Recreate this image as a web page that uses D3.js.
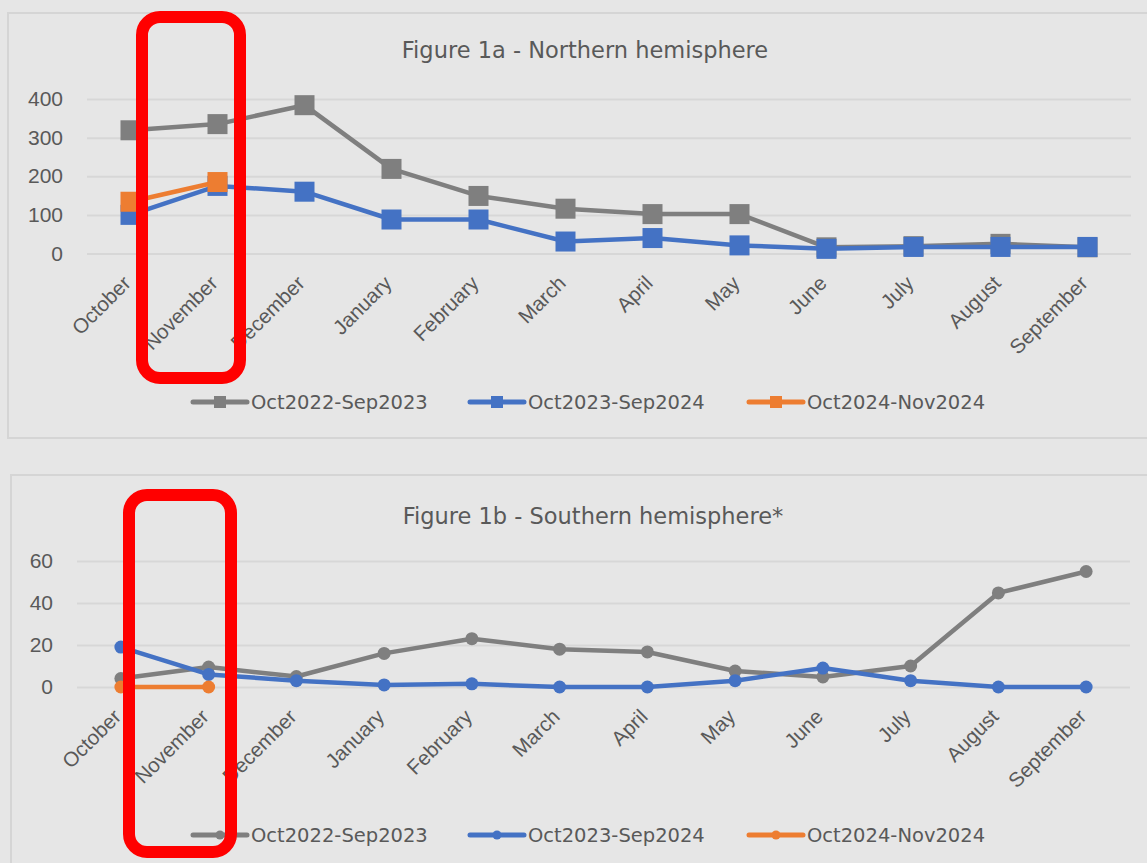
<!DOCTYPE html>
<html>
<head>
<meta charset="utf-8">
<script src="https://cdn.jsdelivr.net/npm/d3@7"></script>
<style>
  html, body { margin: 0; padding: 0; background: #e6e6e6; }
  svg { display: block; font-family: "DejaVu Sans", "Open Sans", sans-serif; }
</style>
</head>
<body>
<div id="chart"></div>
<script>
// Data
const months = ["October", "November", "December", "January", "February", "March",
  "April", "May", "June", "July", "August", "September"];
const seriesNames = ["Oct2022-Sep2023", "Oct2023-Sep2024", "Oct2024-Nov2024"];

const north2223 = [319, 335, 384, 219, 149, 116, 102, 102, 16, 19, 25, 16];
const north2324 = [100, 175, 160, 88, 88, 31, 40, 21, 12, 17, 17, 17];
const north2425 = [134, 185];
const northTicks = [0, 100, 200, 300, 400];

const south2223 = [4, 9.5, 5, 16, 23, 18, 16.7, 7.6, 4.8, 10, 44.8, 55];
const south2324 = [19, 6, 3, 1, 1.5, 0, 0, 3, 9, 3, 0, 0];
const south2425 = [0, 0];
const southTicks = [0, 20, 40, 60];

const colors = ["#7f7f7f", "#4472c4", "#ed7d31"];
const textColor = "#595959";

const width = 1147, height = 863;

const svg = d3.select("#chart").append("svg")
  .attr("width", width)
  .attr("height", height)
  .attr("viewBox", [0, 0, width, height]);

function drawPanel(cfg) {
  const g = svg.append("g");

  // panel frame
  g.append("rect")
    .attr("x", cfg.frame[0]).attr("y", cfg.frame[1])
    .attr("width", cfg.frame[2]).attr("height", cfg.frame[3])
    .attr("fill", "#e6e6e6")
    .attr("stroke", "#d5d5d5")
    .attr("stroke-width", 2);

  g.append("text")
    .attr("x", cfg.titleX).attr("y", cfg.titleY)
    .attr("text-anchor", "middle")
    .attr("fill", textColor)
    .attr("font-size", "22.5px")
    .text(cfg.title);

  const x = d3.scalePoint().domain(months).range([cfg.left, cfg.right]).padding(0.5);
  const y = d3.scaleLinear().domain(cfg.domain).range([cfg.bottom, cfg.top]);

  // gridlines + y labels
  const yAxis = d3.axisLeft(y).tickValues(cfg.ticks).tickSize(-(cfg.right - cfg.left)).tickPadding(24);
  const ya = g.append("g").attr("transform", `translate(${cfg.left},0)`).call(yAxis);
  ya.select(".domain").remove();
  ya.selectAll(".tick line").attr("stroke", "#d7d7d7").attr("stroke-width", 2);
  ya.selectAll(".tick text").attr("fill", textColor).attr("font-size", "21px")
    .attr("font-family", "inherit");

  // x labels, rotated
  const xAxis = d3.axisBottom(x).tickSize(0).tickPadding(0);
  const xa = g.append("g").attr("transform", `translate(0,${cfg.bottom})`).call(xAxis);
  xa.select(".domain").remove();
  xa.selectAll(".tick text")
    .attr("fill", textColor)
    .attr("font-size", "20.5px")
    .attr("font-family", "inherit")
    .attr("text-anchor", "end")
    .attr("dy", 0)
    .attr("y", 0)
    .attr("transform", `translate(${cfg.labelDx},${cfg.labelDy}) rotate(-45)`);

  const line = d3.line()
    .x((d, i) => x(months[i]))
    .y(d => y(d));

  cfg.series.forEach((vals, s) => {
    g.append("path")
      .datum(vals)
      .attr("fill", "none")
      .attr("stroke", colors[s])
      .attr("stroke-width", 4.5)
      .attr("stroke-linejoin", "round")
      .attr("d", line);

    const pts = g.append("g").selectAll(".pt")
      .data(vals)
      .join(cfg.marker === "square" ? "rect" : "circle")
      .attr("fill", colors[s]);
    if (cfg.marker === "square") {
      pts.attr("x", (d, i) => x(months[i]) - 10)
        .attr("y", d => y(d) - 10)
        .attr("width", 20).attr("height", 20);
    } else {
      pts.attr("cx", (d, i) => x(months[i]))
        .attr("cy", d => y(d))
        .attr("r", 6.5);
    }
  });

  // legend
  const lg = g.append("g");
  seriesNames.forEach((name, s) => {
    const lx = cfg.legendX[s];
    const ly = cfg.legendY;
    lg.append("line")
      .attr("x1", lx).attr("x2", lx + 54)
      .attr("y1", ly).attr("y2", ly)
      .attr("stroke", colors[s])
      .attr("stroke-width", 5)
      .attr("stroke-linecap", "round");
    if (cfg.marker === "square") {
      lg.append("rect")
        .attr("x", lx + 21).attr("y", ly - 6)
        .attr("width", 12).attr("height", 12)
        .attr("fill", colors[s]);
    } else {
      lg.append("circle")
        .attr("cx", lx + 27).attr("cy", ly)
        .attr("r", 4.5)
        .attr("fill", colors[s]);
    }
    lg.append("text")
      .attr("x", lx + 58).attr("y", ly + 7)
      .attr("fill", textColor)
      .attr("font-size", "19.5px")
      .text(name);
  });
}

drawPanel({
  frame: [8, 13, 1160, 425],
  title: "Figure 1a - Northern hemisphere",
  titleX: 585, titleY: 58,
  left: 87, right: 1131, top: 99, bottom: 253.5,
  domain: [0, 400], ticks: northTicks,
  labelDx: 1, labelDy: 31,
  series: [north2223, north2324, north2425],
  marker: "square",
  legendX: [193, 470, 749], legendY: 402
});

drawPanel({
  frame: [11, 475, 1160, 420],
  title: "Figure 1b - Southern hemisphere*",
  titleX: 593, titleY: 524,
  left: 77, right: 1130, top: 561, bottom: 687,
  domain: [0, 60], ticks: southTicks,
  labelDx: 1, labelDy: 31,
  series: [south2223, south2324, south2425],
  marker: "circle",
  legendX: [193, 470, 749], legendY: 835
});

// red highlight boxes around November
const highlights = [
  { x: 142, y: 17, w: 98, h: 361 },
  { x: 129, y: 495, w: 102, h: 357 }
];
svg.append("g").selectAll("rect")
  .data(highlights)
  .join("rect")
  .attr("x", d => d.x).attr("y", d => d.y)
  .attr("width", d => d.w).attr("height", d => d.h)
  .attr("rx", 18).attr("ry", 18)
  .attr("fill", "none")
  .attr("stroke", "#ff0000")
  .attr("stroke-width", 12);
</script>
</body>
</html>
